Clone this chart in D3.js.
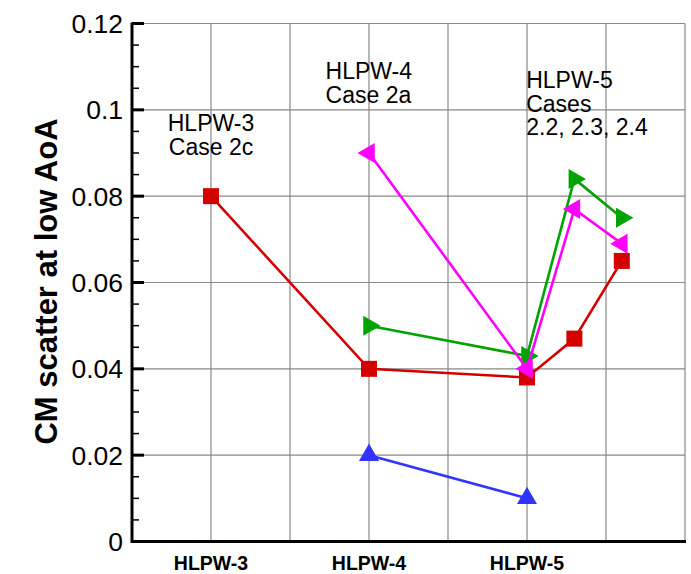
<!DOCTYPE html>
<html>
<head>
<meta charset="utf-8">
<script src="https://cdn.jsdelivr.net/npm/d3@7"></script>
<style>
  html, body { margin: 0; padding: 0; background: #fff; }
  svg { display: block; font-family: "Liberation Sans", Arial, Helvetica, sans-serif; }
</style>
</head>
<body>
<svg id="chart" width="691" height="574"></svg>
<script>
// Workshop categories and their positions on the x axis
const categories = ["HLPW-3", "HLPW-4", "HLPW-5"];
const categoryPos = [1, 3, 5];

// Y tick values and labels
const yTicks = [0, 0.02, 0.04, 0.06, 0.08, 0.1, 0.12];
const yTickLabels = ["0", "0.02", "0.04", "0.06", "0.08", "0.1", "0.12"];

// Series: CM scatter at low AoA
const redX = [1, 3, 5, 5.6, 6.2];
const redY = [0.080, 0.040, 0.038, 0.047, 0.065];
const blueX = [3, 5];
const blueY = [0.020, 0.010];
const greenX = [3, 5, 5.6, 6.2];
const greenY = [0.050, 0.043, 0.084, 0.075];
const magentaX = [3, 5, 5.6, 6.2];
const magentaY = [0.090, 0.040, 0.077, 0.069];

// Text annotations (x in data units, y in data units of the first line)
const notes = [
  { x: 1, y: 0.0955, lines: ["HLPW-3", "Case 2c"], anchor: "middle" },
  { x: 2.45, y: 0.1075, lines: ["HLPW-4", "Case 2a"], anchor: "start" },
  { x: 4.99, y: 0.1055, lines: ["HLPW-5", "Cases", "2.2, 2.3, 2.4"], anchor: "start" }
];

const svg = d3.select("#chart");
const x = d3.scaleLinear().domain([0, 7]).range([132, 685]);
const y = d3.scaleLinear().domain([0, 0.12]).range([541.5, 23.5]);

// Grid
const grid = svg.append("g").attr("stroke", "#888").attr("stroke-width", 1.2);
grid.selectAll("line.v").data(d3.range(1, 8)).join("line")
  .attr("x1", d => x(d)).attr("x2", d => x(d))
  .attr("y1", y(0)).attr("y2", y(0.12));
grid.selectAll("line.h").data(yTicks.slice(1)).join("line")
  .attr("x1", x(0)).attr("x2", x(7))
  .attr("y1", d => y(d)).attr("y2", d => y(d));

// Left axis: major ticks inward, minor ticks between
const minor = d3.range(0, 0.1201, 0.005).filter(v => Math.abs(Math.round(v / 0.02) * 0.02 - v) > 1e-6);
svg.append("g").selectAll("line").data(minor).join("line")
  .attr("x1", x(0)).attr("x2", x(0) + 7)
  .attr("y1", d => y(d)).attr("y2", d => y(d))
  .attr("stroke", "#000").attr("stroke-width", 1.5);
svg.append("g").selectAll("line").data(yTicks).join("line")
  .attr("x1", x(0)).attr("x2", x(0) + 12)
  .attr("y1", d => y(d)).attr("y2", d => y(d))
  .attr("stroke", "#000").attr("stroke-width", 3);
svg.append("g").selectAll("text").data(yTicks).join("text")
  .attr("x", x(0) - 9).attr("y", d => y(d))
  .attr("dy", "0.36em")
  .attr("text-anchor", "end")
  .attr("font-size", 26.5)
  .text((d, i) => yTickLabels[i]);

// Axis lines
svg.append("line").attr("x1", x(0)).attr("x2", x(0)).attr("y1", y(0.12) - 1).attr("y2", y(0) + 1.5)
  .attr("stroke", "#000").attr("stroke-width", 3);
svg.append("line").attr("x1", x(0)).attr("x2", x(7) + 1).attr("y1", y(0)).attr("y2", y(0))
  .attr("stroke", "#000").attr("stroke-width", 3);

// X category labels
svg.append("g").selectAll("text").data(categories).join("text")
  .attr("x", (d, i) => x(categoryPos[i])).attr("y", 570)
  .attr("text-anchor", "middle")
  .attr("font-size", 19.5).attr("font-weight", "bold")
  .text(d => d);

// Y axis title
svg.append("text")
  .attr("transform", `translate(57,${(y(0) + y(0.12)) / 2 - 1}) rotate(-90)`)
  .attr("text-anchor", "middle")
  .attr("font-size", 31).attr("font-weight", "bold")
  .text("CM scatter at low AoA");

// Annotations, one text element per line
notes.forEach(n => {
  const g = svg.append("g");
  n.lines.forEach((l, i) => {
    g.append("text")
      .attr("x", x(n.x)).attr("y", y(n.y) + 2 + i * 23.5)
      .attr("text-anchor", n.anchor)
      .attr("font-size", 23)
      .text(l);
  });
});

// Marker shapes
const tri = 17;
const triUp = d3.symbol().type(d3.symbolTriangle).size(tri * tri * 0.6)();
function drawSeries(xs, ys, color, shape) {
  const pts = xs.map((v, i) => [x(v), y(ys[i])]);
  svg.append("path")
    .attr("d", d3.line()(pts))
    .attr("fill", "none").attr("stroke", color).attr("stroke-width", 2.6)
    .attr("stroke-linejoin", "miter");
  const g = svg.append("g");
  pts.forEach(p => {
    if (shape === "square") {
      g.append("rect").attr("x", p[0] - 8).attr("y", p[1] - 8)
        .attr("width", 16).attr("height", 16).attr("fill", color);
    } else {
      const rot = { up: 0, right: 90, left: -90 }[shape];
      g.append("path").attr("d", triUp)
        .attr("transform", `translate(${p[0]},${p[1]}) rotate(${rot})`)
        .attr("fill", color);
    }
  });
}

drawSeries(redX, redY, "#d40000", "square");
drawSeries(blueX, blueY, "#3333ff", "up");
drawSeries(greenX, greenY, "#00a300", "right");
drawSeries(magentaX, magentaY, "#ff00ff", "left");
</script>
</body>
</html>
